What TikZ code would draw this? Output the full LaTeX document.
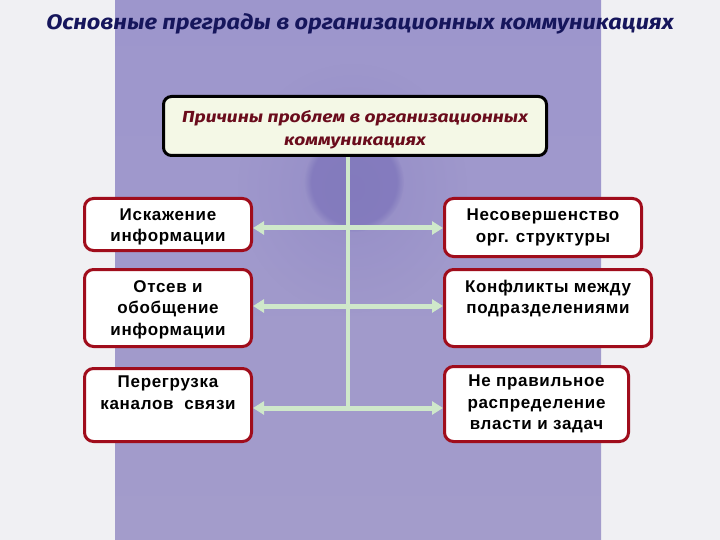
\documentclass[tikz,border=0pt]{standalone}
\usepackage{fontspec}
\setmainfont{Liberation Sans}
\newfontfamily\boxfont[LetterSpace=4]{Liberation Sans}
\newfontfamily\titlefont[FakeStretch=1.12]{Fira Sans}
\newfontfamily\itfont[FakeStretch=1.2]{Fira Sans}
\usetikzlibrary{arrows.meta,fadings}
\tikzfading[name=spotfade, inner color=transparent!0, outer color=transparent!100]
\definecolor{pagebg}{HTML}{F0F0F3}
\definecolor{bandtop}{HTML}{9D96CC}
\definecolor{bandmid}{HTML}{968ECA}
\definecolor{bandbot}{HTML}{A39CCB}
\definecolor{spot}{HTML}{7C73BA}
\definecolor{boxred}{HTML}{A00D1C}
\definecolor{cream}{HTML}{F4F8E6}
\definecolor{titleblue}{HTML}{16165C}
\definecolor{topred}{HTML}{6A0C1C}
\definecolor{linkgreen}{HTML}{CFE8CA}
\tikzset{
  redbox/.style={draw=boxred, line width=3pt, fill=white, rounded corners=9pt,
    inner sep=0pt, align=center, text=black,
    font=\boxfont\fontsize{17}{21.5}\selectfont\bfseries},
  topbox/.style={draw=black, line width=3pt, fill=cream, rounded corners=8pt,
    inner sep=0pt, align=center, text=topred,
    font=\itfont\fontsize{16}{23.5}\selectfont\bfseries\itshape},
  dblarrow/.style={draw=linkgreen, line width=5pt,
    {Triangle[width=13pt,length=11pt]}-{Triangle[width=13pt,length=11pt]}},
  spine/.style={draw=linkgreen, line width=4.5pt}
}
\newcommand{\pushdown}[1]{\rule{0pt}{#1}}
\begin{document}
\begin{tikzpicture}[x=1pt,y=-1pt]
\useasboundingbox (0,0) rectangle (720,540);
\fill[pagebg] (0,0) rectangle (720,540);
\shade[top color=bandtop, middle color=bandmid, bottom color=bandbot] (115,0) rectangle (601,540);
\fill[spot, opacity=0.3, path fading=spotfade] (352,188) ellipse (115 and 125);
\fill[spot, opacity=0.7, path fading=circle with fuzzy edge 15 percent] (354,182) circle (50);

\node[text=titleblue, font=\titlefont\fontsize{21}{24}\selectfont\bfseries\itshape] (title) at (360,24)
  {Основные преграды в организационных коммуникациях};

\node[topbox, minimum width=383pt, minimum height=59pt] (top) at (355,126)
  {\pushdown{20pt}Причины проблем в организационных\\коммуникациях};

\node[redbox, minimum width=167pt, minimum height=52pt] (L1) at (168,224.5)
  {\pushdown{17pt}Искажение\\информации};
\node[redbox, minimum width=167pt, minimum height=77pt] (L2) at (168,308)
  {\pushdown{15pt}Отсев и\\обобщение\\информации};
\node[redbox, minimum width=167pt, minimum height=73pt] (L3) at (168,405)
  {\pushdown{15pt}Перегрузка\\каналов \ связи\\\strut};
\node[redbox, minimum width=197pt, minimum height=58pt] (R1) at (543,227.5)
  {Несовершенство\\орг. структуры};
\node[redbox, minimum width=207pt, minimum height=77pt] (R2) at (548,308)
  {\pushdown{18pt}Конфликты между\\подразделениями\\\strut};
\node[redbox, minimum width=184pt, minimum height=75pt] (R3) at (536.5,404)
  {Не правильное\\распределение\\власти и задач};

\coordinate (j1) at (348,228);
\coordinate (j2) at (348,306);
\coordinate (j3) at (348,408);

\draw[spine] (top.south -| j1) -- (j3);
\draw[dblarrow] (L1.east |- j1) -- (R1.west |- j1);
\draw[dblarrow] (L2.east |- j2) -- (R2.west |- j2);
\draw[dblarrow] (L3.east |- j3) -- (R3.west |- j3);
\end{tikzpicture}
\end{document}
